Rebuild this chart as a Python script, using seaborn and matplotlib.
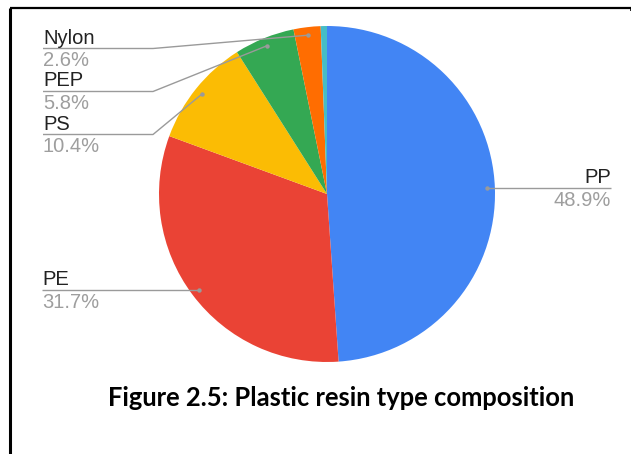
import numpy as np
import matplotlib
matplotlib.use("Agg")
import matplotlib.pyplot as plt
import seaborn as sns

# Resin composition (%), clockwise from 12 o'clock
resins = ["PP", "PE", "PS", "PEP", "Nylon", "Other"]
shares = [48.9, 31.7, 10.4, 5.8, 2.6, 0.6]
colors = ["#4285F4", "#EA4335", "#FBBC04", "#34A853", "#FF6D01", "#46BDC6"]
labelled = ["PP", "PE", "PS", "PEP", "Nylon"]
title = "Figure 2.5: Plastic resin type composition"

sns.set_theme(style="white")
plt.rcParams["font.family"] = ["Liberation Sans", "DejaVu Sans"]

W, H = 631, 454
fig = plt.figure(figsize=(W / 100, H / 100), dpi=100)
ax = fig.add_axes([0, 0, 1, 1])

cx, cy, R = 327, H - 194, 168
wedges, _ = ax.pie(shares, colors=colors, startangle=90, counterclock=False,
                   radius=R, center=(cx, cy), frame=True,
                   wedgeprops=dict(linewidth=0))
ax.set_xlim(0, W)
ax.set_ylim(0, H)
ax.set_aspect("equal")
ax.axis("off")

line_c = "#9a9a9a"
name_c = "#222222"
pct_c = "#9e9e9e"
fs = 14.5

# label layout: (name baseline y from top, side)
layout = {
    "Nylon": (43, "left_bend"),
    "PEP": (86, "left_bend"),
    "PS": (129, "left_bend"),
    "PE": (283, "left"),
    "PP": (183, "right"),
}

total = sum(shares)
cum = 0.0
for name, val, w in zip(resins, shares, wedges):
    mid = 90 - (cum + val / 2) / total * 360
    cum += val
    if name not in labelled:
        continue
    dx = cx + 0.952 * R * np.cos(np.radians(mid))
    dy = cy + 0.952 * R * np.sin(np.radians(mid))
    base, side = layout[name]
    ly = H - (base + 5.5)
    if side == "right":
        xs, ys = [dx, 611], [dy, dy]
        tx, ha = 611, "right"
        ly = dy
    elif side == "left":
        xs, ys = [42, dx], [dy, dy]
        tx, ha = 42, "left"
        ly = dy
    else:
        xs, ys = [43, 153, dx], [ly, ly, dy]
        tx, ha = 43, "left"
    ax.plot(xs, ys, color=line_c, lw=1.0, solid_capstyle="butt", zorder=3)
    ax.plot([dx], [dy], "o", color=line_c, ms=3.2, mec="none", zorder=4)
    ax.text(tx, ly + 5, name, ha=ha, va="baseline", fontsize=fs, color=name_c)
    ax.text(tx, ly - 17.5, f"{val}%", ha=ha, va="baseline", fontsize=fs, color=pct_c)

ax.text(341, H - 406, title, ha="center", va="baseline", fontsize=18.4,
        fontweight="bold", family=["Lato", "DejaVu Sans"], color="#000000")

# page border
ax.plot([9.5, 630.5], [H - 7.5, H - 7.5], color="black", lw=1.6, solid_capstyle="butt")
ax.plot([9.5, 9.5], [H - 7.5, 0], color="black", lw=2.2, solid_capstyle="butt")
ax.plot([630.5, 630.5], [H - 7.5, H - 11], color="black", lw=1.2, solid_capstyle="butt")

fig.savefig("out.png", dpi=100)
